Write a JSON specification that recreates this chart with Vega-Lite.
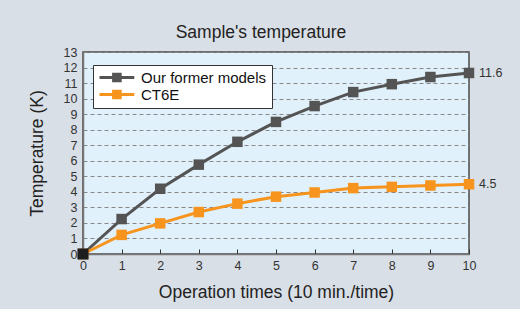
{
  "$schema": "https://vega.github.io/schema/vega-lite/v6.json",
  "autosize": "none",
  "width": 386,
  "height": 202,
  "padding": {"left": 83, "top": 52, "right": 51, "bottom": 55},
  "background": "#d9dfe6",
  "config": {
    "font": "Liberation Sans",
    "view": {"fill": "#e0f1fb", "stroke": "#4a4a4a", "strokeWidth": 1.5}
  },
  "title": {
    "text": "Sample's temperature",
    "fontSize": 17.5,
    "fontWeight": "normal",
    "color": "#222222",
    "offset": 5,
    "dx": -15
  },
  "datasets": {
    "series": [
      {"series": "Our former models", "x": 0, "y": 0},
      {"series": "Our former models", "x": 1, "y": 2.25},
      {"series": "Our former models", "x": 2, "y": 4.2},
      {"series": "Our former models", "x": 3, "y": 5.75},
      {"series": "Our former models", "x": 4, "y": 7.22},
      {"series": "Our former models", "x": 5, "y": 8.5},
      {"series": "Our former models", "x": 6, "y": 9.52},
      {"series": "Our former models", "x": 7, "y": 10.42},
      {"series": "Our former models", "x": 8, "y": 10.93},
      {"series": "Our former models", "x": 9, "y": 11.39},
      {"series": "Our former models", "x": 10, "y": 11.65},
      {"series": "CT6E", "x": 0, "y": 0},
      {"series": "CT6E", "x": 1, "y": 1.23},
      {"series": "CT6E", "x": 2, "y": 1.97},
      {"series": "CT6E", "x": 3, "y": 2.7},
      {"series": "CT6E", "x": 4, "y": 3.24},
      {"series": "CT6E", "x": 5, "y": 3.69},
      {"series": "CT6E", "x": 6, "y": 3.96},
      {"series": "CT6E", "x": 7, "y": 4.24},
      {"series": "CT6E", "x": 8, "y": 4.32},
      {"series": "CT6E", "x": 9, "y": 4.41},
      {"series": "CT6E", "x": 10, "y": 4.49}
    ],
    "ends": [
      {"x": 10, "y": 11.65, "label": "11.6"},
      {"x": 10, "y": 4.49, "label": "4.5"}
    ],
    "origin": [{"x": 0, "y": 0}]
  },
  "encoding": {
    "x": {
      "field": "x", "type": "quantitative",
      "scale": {"domain": [0, 10], "nice": false},
      "axis": {
        "values": [0,1,2,3,4,5,6,7,8,9,10],
        "grid": false,
        "tickSize": -5,
        "tickColor": "#333333",
        "tickWidth": 1,
        "domainColor": "#777777",
        "domainWidth": 1.5,
        "labelPadding": 10,
        "labelFontSize": 12.5,
        "labelColor": "#333333",
        "labelFlush": false,
        "title": "Operation times (10 min./time)",
        "titleFontSize": 17.5,
        "titleFontWeight": "normal",
        "titleColor": "#222222",
        "titlePadding": 12
      }
    },
    "y": {
      "field": "y", "type": "quantitative",
      "scale": {"domain": [0, 13], "nice": false},
      "axis": {
        "values": [0,1,2,3,4,5,6,7,8,9,10,11,12,13],
        "grid": true,
        "gridColor": "#888888",
        "gridDash": [4, 3],
        "gridWidth": 1,
        "ticks": false,
        "domainColor": "#777777",
        "domainWidth": 1.5,
        "labelPadding": 6,
        "labelFontSize": 12.5,
        "labelColor": "#333333",
        "labelFlush": false,
        "title": "Temperature (K)",
        "titleFontSize": 17.5,
        "titleFontWeight": "normal",
        "titleColor": "#222222",
        "titlePadding": 17
      }
    }
  },
  "layer": [
    {
      "data": {"name": "series"},
      "encoding": {
        "color": {
          "field": "series", "type": "nominal",
          "scale": {"domain": ["Our former models", "CT6E"], "range": ["#545454", "#f7941d"]},
          "legend": {
            "title": null,
            "orient": "none",
            "legendX": 10,
            "legendY": 13,
            "fillColor": "#ffffff",
            "strokeColor": "#333333",
            "padding": 5,
            "labelFontSize": 15,
            "labelColor": "#111111",
            "labelOffset": 28,
            "rowPadding": 1,
            "symbolType": "M-1,-0.25H1.1V-0.8H2.7V-0.25H4.8V0.25H2.7V0.8H1.1V0.25H-1Z",
            "symbolSize": 144,
            "symbolStrokeWidth": 0,
            "symbolOpacity": 1,
            "symbolDash": [],
            "encode": {
              "symbols": {"update": {"fill": {"scale": "color", "field": "value"}, "strokeWidth": {"value": 0}, "opacity": {"value": 1}}}
            }
          }
        }
      },
      "layer": [
        {"mark": {"type": "line", "strokeWidth": 3}},
        {"mark": {"type": "point", "shape": "square", "filled": true, "size": 110, "opacity": 1}}
      ]
    },
    {
      "data": {"name": "origin"},
      "mark": {"type": "point", "shape": "square", "filled": true, "size": 120, "color": "#1e1e1e", "opacity": 1}
    },
    {
      "data": {"name": "ends"},
      "mark": {"type": "text", "align": "left", "dx": 10, "fontSize": 12.5, "color": "#333333"},
      "encoding": {"text": {"field": "label"}}
    }
  ]
}
